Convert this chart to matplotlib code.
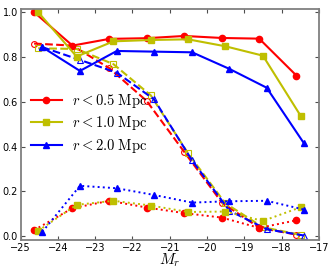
import numpy as np
import matplotlib
matplotlib.use('Agg')
import matplotlib.pyplot as plt

plt.rcParams['mathtext.fontset'] = 'cm'

# magnitude bins (slightly offset per radius)
x05 = [-24.64, -23.61, -22.62, -21.62, -20.61, -19.60, -18.60, -17.60]
x10 = [-24.53, -23.50, -22.51, -21.51, -20.51, -19.51, -18.50, -17.49]
x20 = [-24.42, -23.41, -22.42, -21.42, -20.40, -19.40, -18.40, -17.40]

# solid: filled markers
solid05 = [1.000, 0.851, 0.881, 0.884, 0.894, 0.885, 0.882, 0.717]
solid10 = [1.000, 0.802, 0.870, 0.876, 0.879, 0.848, 0.806, 0.538]
solid20 = [0.844, 0.738, 0.827, 0.824, 0.821, 0.747, 0.663, 0.415]

# dashed: open markers
dash05 = [0.860, 0.851, 0.750, 0.604, 0.376, 0.150, 0.038, 0.007]
dash10 = [0.839, 0.836, 0.768, 0.629, 0.370, 0.147, 0.040, 0.006]
dash20 = [0.844, 0.787, 0.730, 0.611, 0.338, 0.114, 0.031, 0.003]

# dotted
dot05 = [0.027, 0.125, 0.158, 0.128, 0.103, 0.083, 0.037, 0.071]
dot10 = [0.024, 0.140, 0.158, 0.137, 0.108, 0.110, 0.068, 0.129]
dot20 = [0.019, 0.225, 0.214, 0.184, 0.150, 0.156, 0.158, 0.119]

labels = [r'$r<0.5\ \mathrm{Mpc}$', r'$r<1.0\ \mathrm{Mpc}$', r'$r<2.0\ \mathrm{Mpc}$']
colors = ['r', 'y', 'b']
markers = ['o', 's', '^']

fig = plt.figure(figsize=(3.32, 2.77), dpi=100)
ax = fig.add_axes([0.0623, 0.1336, 0.898, 0.8328])

xs = [x05, x10, x20]
sol = [solid05, solid10, solid20]
das = [dash05, dash10, dash20]
dts = [dot05, dot10, dot20]

for i in range(3):
    ax.plot(xs[i], das[i], '--', color=colors[i], lw=1.5, marker=markers[i],
            ms=4.2, mfc='none', mec=colors[i], mew=0.8)
for i in range(3):
    ax.plot(xs[i], dts[i], ':', color=colors[i], lw=1.4, marker=markers[i],
            ms=4.5, mec=colors[i])
for i in range(3):
    ax.plot(xs[i], sol[i], '-', color=colors[i], lw=1.5, marker=markers[i],
            ms=4.5, mec=colors[i], label=labels[i])

ax.set_xlim(-25, -17)
ax.set_ylim(-0.017, 1.013)
ax.set_xticks(np.arange(-25, -16, 1))
ax.set_yticks(np.arange(0, 1.01, 0.2))
ax.yaxis.set_major_formatter(matplotlib.ticker.FormatStrFormatter('%.1f'))
ax.tick_params(labelsize=7, length=3, width=0.8, color='0.3', pad=2,
               direction='in', top=True, right=True)

for s in ax.spines.values():
    s.set_color('0.5')
    s.set_linewidth(1.3)

ax.set_xlabel(r'$M_r$', fontsize=11, labelpad=-1)

ax.legend(loc='center left', bbox_to_anchor=(0.0, 0.505), frameon=False,
          fontsize=10.5, handlelength=2.1, labelspacing=0.3, borderaxespad=0.3,
          handletextpad=0.7)

fig.savefig('out.png', dpi=100)
